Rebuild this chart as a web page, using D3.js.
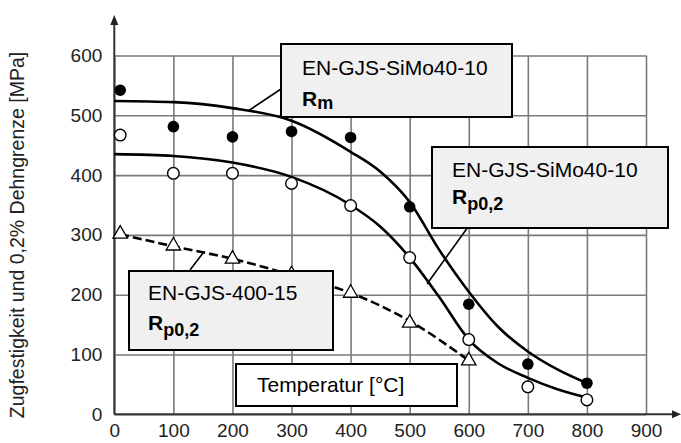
<!DOCTYPE html>
<html>
<head>
<meta charset="utf-8">
<script src="https://cdn.jsdelivr.net/npm/d3@7/dist/d3.min.js"></script>
<style>
  body { margin: 0; background: #fff; }
  svg text { font-family: "Liberation Sans", Arial, sans-serif; }
</style>
</head>
<body>
<svg id="chart" width="681" height="443"></svg>
<script>
// temperature ticks / value ticks
const xTicks = [0, 100, 200, 300, 400, 500, 600, 700, 800, 900];
const yTicks = [0, 100, 200, 300, 400, 500, 600];

// measured points
const rmTemp = [10, 100, 200, 300, 400, 500, 600, 700, 800];
const rmPoints = [542, 481, 464, 473, 463, 347, 184, 84, 52];
const rpTemp = [10, 100, 200, 300, 400, 500, 600, 700, 800];
const rpPoints = [467, 403, 403, 386, 349, 262, 125, 46, 24];
const gjsTemp = [10, 100, 200, 300, 400, 500, 600];
const gjsPoints = [300, 280, 258, 232, 201, 151, 88];

// fitted curves
const rmCurveT = [0, 100, 200, 300, 400, 450, 500, 550, 600, 650, 700, 750, 800];
const rmCurveV = [524, 522, 512, 491, 439, 406, 355, 275, 205, 146, 105, 75, 52];
const rpCurveT = [0, 100, 200, 300, 400, 450, 500, 550, 600, 650, 700, 750, 800];
const rpCurveV = [435, 432, 421, 397, 350, 314, 262, 196, 125, 85, 61, 42, 28];
const gjsCurveT = [10, 100, 200, 300, 400, 500, 600];
const gjsCurveV = [301, 281, 260, 233, 203, 156, 90];

const svg = d3.select('svg#chart');
const width = +svg.attr('width');
const height = +svg.attr('height');
const margin = {top: 55.5, right: 35, bottom: 28.7, left: 114.3};
const innerWidth = width - margin.left - margin.right;
const innerHeight = height - margin.top - margin.bottom;

const xScale = d3.scaleLinear().domain([0, 900]).range([0, innerWidth]);
const yScale = d3.scaleLinear().domain([0, 600]).range([innerHeight, 0]);

const g = svg.append('g')
    .attr('transform', `translate(${margin.left}, ${margin.top})`);

// grid + tick labels
const yAxis = d3.axisLeft(yScale).tickValues(yTicks)
    .tickSize(-innerWidth).tickPadding(12);
const xAxis = d3.axisBottom(xScale).tickValues(xTicks)
    .tickSize(-innerHeight).tickPadding(9);

const yg = g.append('g').call(yAxis);
const xg = g.append('g').attr('transform', `translate(0, ${innerHeight})`).call(xAxis);
[yg, xg].forEach(a => {
    a.select('.domain').remove();
    a.selectAll('.tick line').attr('stroke', '#7a7a7a').attr('stroke-width', 1.6);
    a.selectAll('.tick text').attr('font-size', 19).attr('fill', '#222');
});

// axes with arrows
const x0 = 0, y0 = innerHeight;
g.append('line').attr('x1', x0).attr('y1', y0).attr('x2', width - margin.left - 6).attr('y2', y0)
    .attr('stroke', '#333').attr('stroke-width', 2);
g.append('path').attr('d', `M${width - margin.left},${y0} l-9,-4 l0,8 z`).attr('fill', '#222');
g.append('line').attr('x1', x0).attr('y1', y0).attr('x2', x0).attr('y2', 15 - margin.top + 6)
    .attr('stroke', '#333').attr('stroke-width', 2);
g.append('path').attr('d', `M${x0},${15 - margin.top} l-4,10 l8,0 z`).attr('fill', '#222');

// curves
const line = d3.line()
    .x(d => xScale(d[0]))
    .y(d => yScale(d[1]))
    .curve(d3.curveMonotoneX);

g.append('path').datum(d3.zip(rmCurveT, rmCurveV))
    .attr('d', line).attr('fill', 'none').attr('stroke', '#000').attr('stroke-width', 2.6);
g.append('path').datum(d3.zip(rpCurveT, rpCurveV))
    .attr('d', line).attr('fill', 'none').attr('stroke', '#000').attr('stroke-width', 2.6);
g.append('path').datum(d3.zip(gjsCurveT, gjsCurveV))
    .attr('d', line).attr('fill', 'none').attr('stroke', '#000').attr('stroke-width', 2.6)
    .attr('stroke-dasharray', '9,4');

// markers
g.selectAll('circle.rm').data(d3.zip(rmTemp, rmPoints))
    .enter().append('circle').attr('class', 'rm')
    .attr('cx', d => xScale(d[0])).attr('cy', d => yScale(d[1]))
    .attr('r', 5.8).attr('fill', '#000');
g.selectAll('circle.rp').data(d3.zip(rpTemp, rpPoints))
    .enter().append('circle').attr('class', 'rp')
    .attr('cx', d => xScale(d[0])).attr('cy', d => yScale(d[1]))
    .attr('r', 5.8).attr('fill', '#fff').attr('stroke', '#000').attr('stroke-width', 1.4);
const tri = d3.symbol().type(d3.symbolTriangle).size(90);
g.selectAll('path.gjs').data(d3.zip(gjsTemp, gjsPoints))
    .enter().append('path').attr('class', 'gjs')
    .attr('d', tri)
    .attr('transform', d => `translate(${xScale(d[0])}, ${yScale(d[1]) - 1})`)
    .attr('fill', '#fff').attr('stroke', '#000').attr('stroke-width', 1.3);

// leader lines (page pixels)
const leaders = [[281, 89, 248, 111], [468, 227, 427, 284], [190, 270, 203, 253]];
svg.selectAll('line.leader').data(leaders).enter().append('line')
    .attr('x1', d => d[0]).attr('y1', d => d[1]).attr('x2', d => d[2]).attr('y2', d => d[3])
    .attr('stroke', '#000').attr('stroke-width', 1.6);

// label boxes
const boxes = [
    {x: 281, y: 44, w: 231, h: 73, name: 'EN-GJS-SiMo40-10', sub: 'm', tx: 302, ty1: 75, ty2: 106, sd: 3},
    {x: 432, y: 147, w: 236, h: 81, name: 'EN-GJS-SiMo40-10', sub: 'p0,2', tx: 452, ty1: 177, ty2: 204, sd: 6},
    {x: 129, y: 271, w: 204, h: 79, name: 'EN-GJS-400-15', sub: 'p0,2', tx: 148, ty1: 300, ty2: 330, sd: 6}
];
boxes.forEach(b => {
    svg.append('rect').attr('x', b.x).attr('y', b.y).attr('width', b.w).attr('height', b.h)
        .attr('fill', '#f0f0f0').attr('stroke', '#000').attr('stroke-width', 2);
    svg.append('text').attr('x', b.tx).attr('y', b.ty1).attr('font-size', 21).text(b.name);
    const t = svg.append('text').attr('x', b.tx).attr('y', b.ty2).attr('font-weight', 'bold');
    t.append('tspan').attr('font-size', 21).text('R');
    t.append('tspan').attr('font-size', 18).attr('dy', b.sd).text(b.sub);
});

svg.append('rect').attr('x', 236).attr('y', 364).attr('width', 221).attr('height', 42)
    .attr('fill', '#fff').attr('stroke', '#000').attr('stroke-width', 2);
svg.append('text').attr('x', 257).attr('y', 392).attr('font-size', 21).text('Temperatur [°C]');

// y title
svg.append('text')
    .attr('transform', 'translate(24, 235) rotate(-90)')
    .attr('text-anchor', 'middle')
    .attr('font-size', 19.5)
    .attr('fill', '#222')
    .text('Zugfestigkeit und 0,2% Dehngrenze [MPa]');
</script>
</body>
</html>
